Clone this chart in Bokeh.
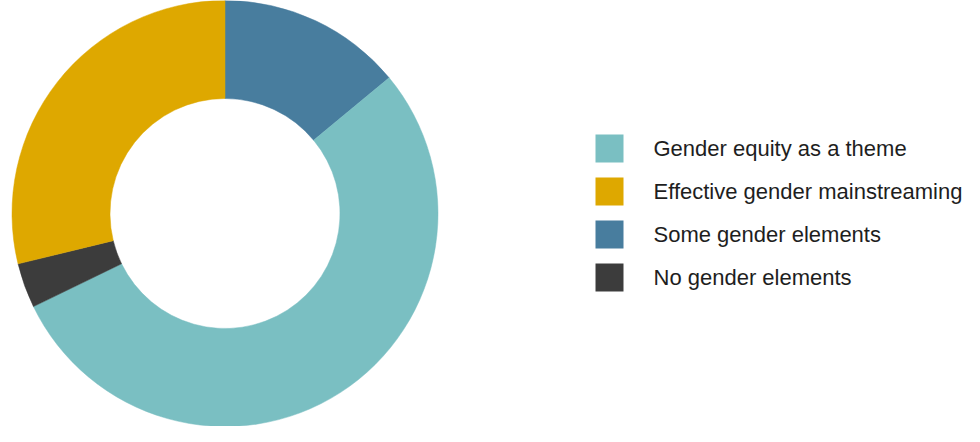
from math import pi
from bokeh.plotting import figure
from bokeh.models import Range1d, ColumnDataSource
from bokeh.core.properties import value
from bokeh.embed import file_html
from bokeh.resources import INLINE

categories = ["Gender equity as a theme", "Effective gender mainstreaming",
              "Some gender elements", "No gender elements"]
shares = [53.8, 28.8, 14.0, 3.4]
colors = ["#7abfc2", "#dea800", "#487d9e", "#3c3c3c"]
# clockwise drawing order from 12 o'clock
draw_order = [2, 0, 3, 1]

W, H = 964, 426
p = figure(width=W, height=H, output_backend="svg", toolbar_location=None,
           x_range=Range1d(0, W), y_range=Range1d(0, H), min_border=0)
p.axis.visible = False
p.grid.visible = False
p.outline_line_color = None

cx, cy = 224.5, H - 213
total = float(sum(shares))
starts, ends, cols = [], [], []
ang = pi / 2
for i in draw_order:
    a = shares[i] / total * 2 * pi
    starts.append(ang)
    ends.append(ang - a)
    cols.append(colors[i])
    ang -= a
src = ColumnDataSource(dict(x=[cx] * 4, y=[cy] * 4, s=starts, e=ends, c=cols))
p.annular_wedge(x="x", y="y", inner_radius=115, outer_radius=213,
                start_angle="s", end_angle="e", direction="clock",
                fill_color="c", line_color="c", line_width=0.5, source=src)

ly = [H - (148 + 43 * k) for k in range(4)]
lsrc = ColumnDataSource(dict(x=[609] * 4, y=ly, tx=[653] * 4, c=colors, t=categories))
p.rect(x="x", y="y", width=28, height=28, fill_color="c", line_color=None, source=lsrc)
p.text(x="tx", y="y", text="t", text_font=value("Liberation Sans"), text_font_size="22px",
       text_color="#1e1e1e", text_baseline="middle", text_align="left", source=lsrc)

open("out.html", "w").write(file_html(p, INLINE))
